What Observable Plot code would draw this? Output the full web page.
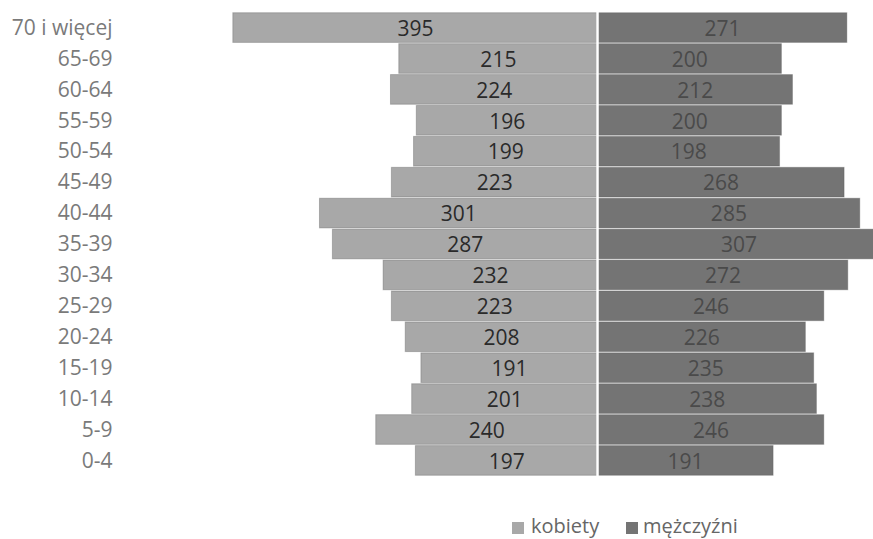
<!DOCTYPE html>
<html>
<head>
<meta charset="utf-8">
<script src="https://cdn.jsdelivr.net/npm/d3@7"></script>
<script src="https://cdn.jsdelivr.net/npm/@observablehq/plot@0.6"></script>
<style>
  html, body { margin: 0; padding: 0; background: #fff; overflow: hidden; width: 873px; height: 539px; position: relative; }
  #chart svg { display: block; overflow: hidden; }
  .lg-sw { position: absolute; top: 522px; width: 12px; height: 12px; }
  .lg-tx { position: absolute; top: 511.5px; font-family: "Open Sans", sans-serif; font-size: 20px; line-height: normal; color: #666; white-space: nowrap; }
</style>
</head>
<body>
<div id="chart"></div>
<div id="legend"></div>
<script>
const ageGroups = ["70 i więcej","65-69","60-64","55-59","50-54","45-49","40-44","35-39","30-34","25-29","20-24","15-19","10-14","5-9","0-4"];
const kobiety   = [395,215,224,196,199,223,301,287,232,223,208,191,201,240,197];
const mezczyzni = [271,200,212,200,198,268,285,307,272,246,226,235,238,246,191];
const seriesNames = ["kobiety","mężczyźni"];
const seriesColors = ["#a8a8a8","#747474"];

const data = [];
ageGroups.forEach((g, i) => {
  data.push({age: g, sex: seriesNames[0], value: kobiety[i], signed: -kobiety[i]});
  data.push({age: g, sex: seriesNames[1], value: mezczyzni[i], signed: mezczyzni[i]});
});

const center = 597, k = 0.922;
const plot = Plot.plot({
  width: 873,
  height: 500,
  marginLeft: 120,
  marginRight: 0,
  marginTop: 0,
  marginBottom: 0,
  style: {fontFamily: "Open Sans, sans-serif", background: "white"},
  x: {domain: [-400, 320], range: [center - 400 * k, center + 320 * k], axis: null},
  y: {domain: ageGroups, range: [11.5, 476.5], padding: 0.04, round: false, label: null},
  color: {domain: seriesNames, range: seriesColors},
  marks: [
    Plot.barX(data, {y: "age", x1: 0, x2: "signed", fill: "sex", stroke: "#5a5a5a", strokeOpacity: 0.35, strokeWidth: 1}),
    Plot.ruleX([0], {stroke: "white", strokeWidth: 2.5}),
    Plot.text(data, {y: "age", x: d => d.signed / 2, text: d => String(d.value),
      fill: d => d.sex === seriesNames[0] ? "#2a2a2a" : "#4a4a4a", fontSize: 21, dy: 1}),
    Plot.axisY({anchor: "left", tickSize: 0, tickPadding: 8, fontSize: 21, color: "#7a7a7a", label: null})
  ]
});
document.getElementById("chart").appendChild(plot);

const legend = document.getElementById("legend");
const swX = [512, 626], txX = [531, 643];
seriesNames.forEach((n, i) => {
  const sw = document.createElement("div");
  sw.className = "lg-sw";
  sw.style.left = swX[i] + "px";
  sw.style.background = seriesColors[i];
  const t = document.createElement("div");
  t.className = "lg-tx";
  t.style.left = txX[i] + "px";
  t.textContent = n;
  legend.appendChild(sw); legend.appendChild(t);
});
</script>
</body>
</html>
